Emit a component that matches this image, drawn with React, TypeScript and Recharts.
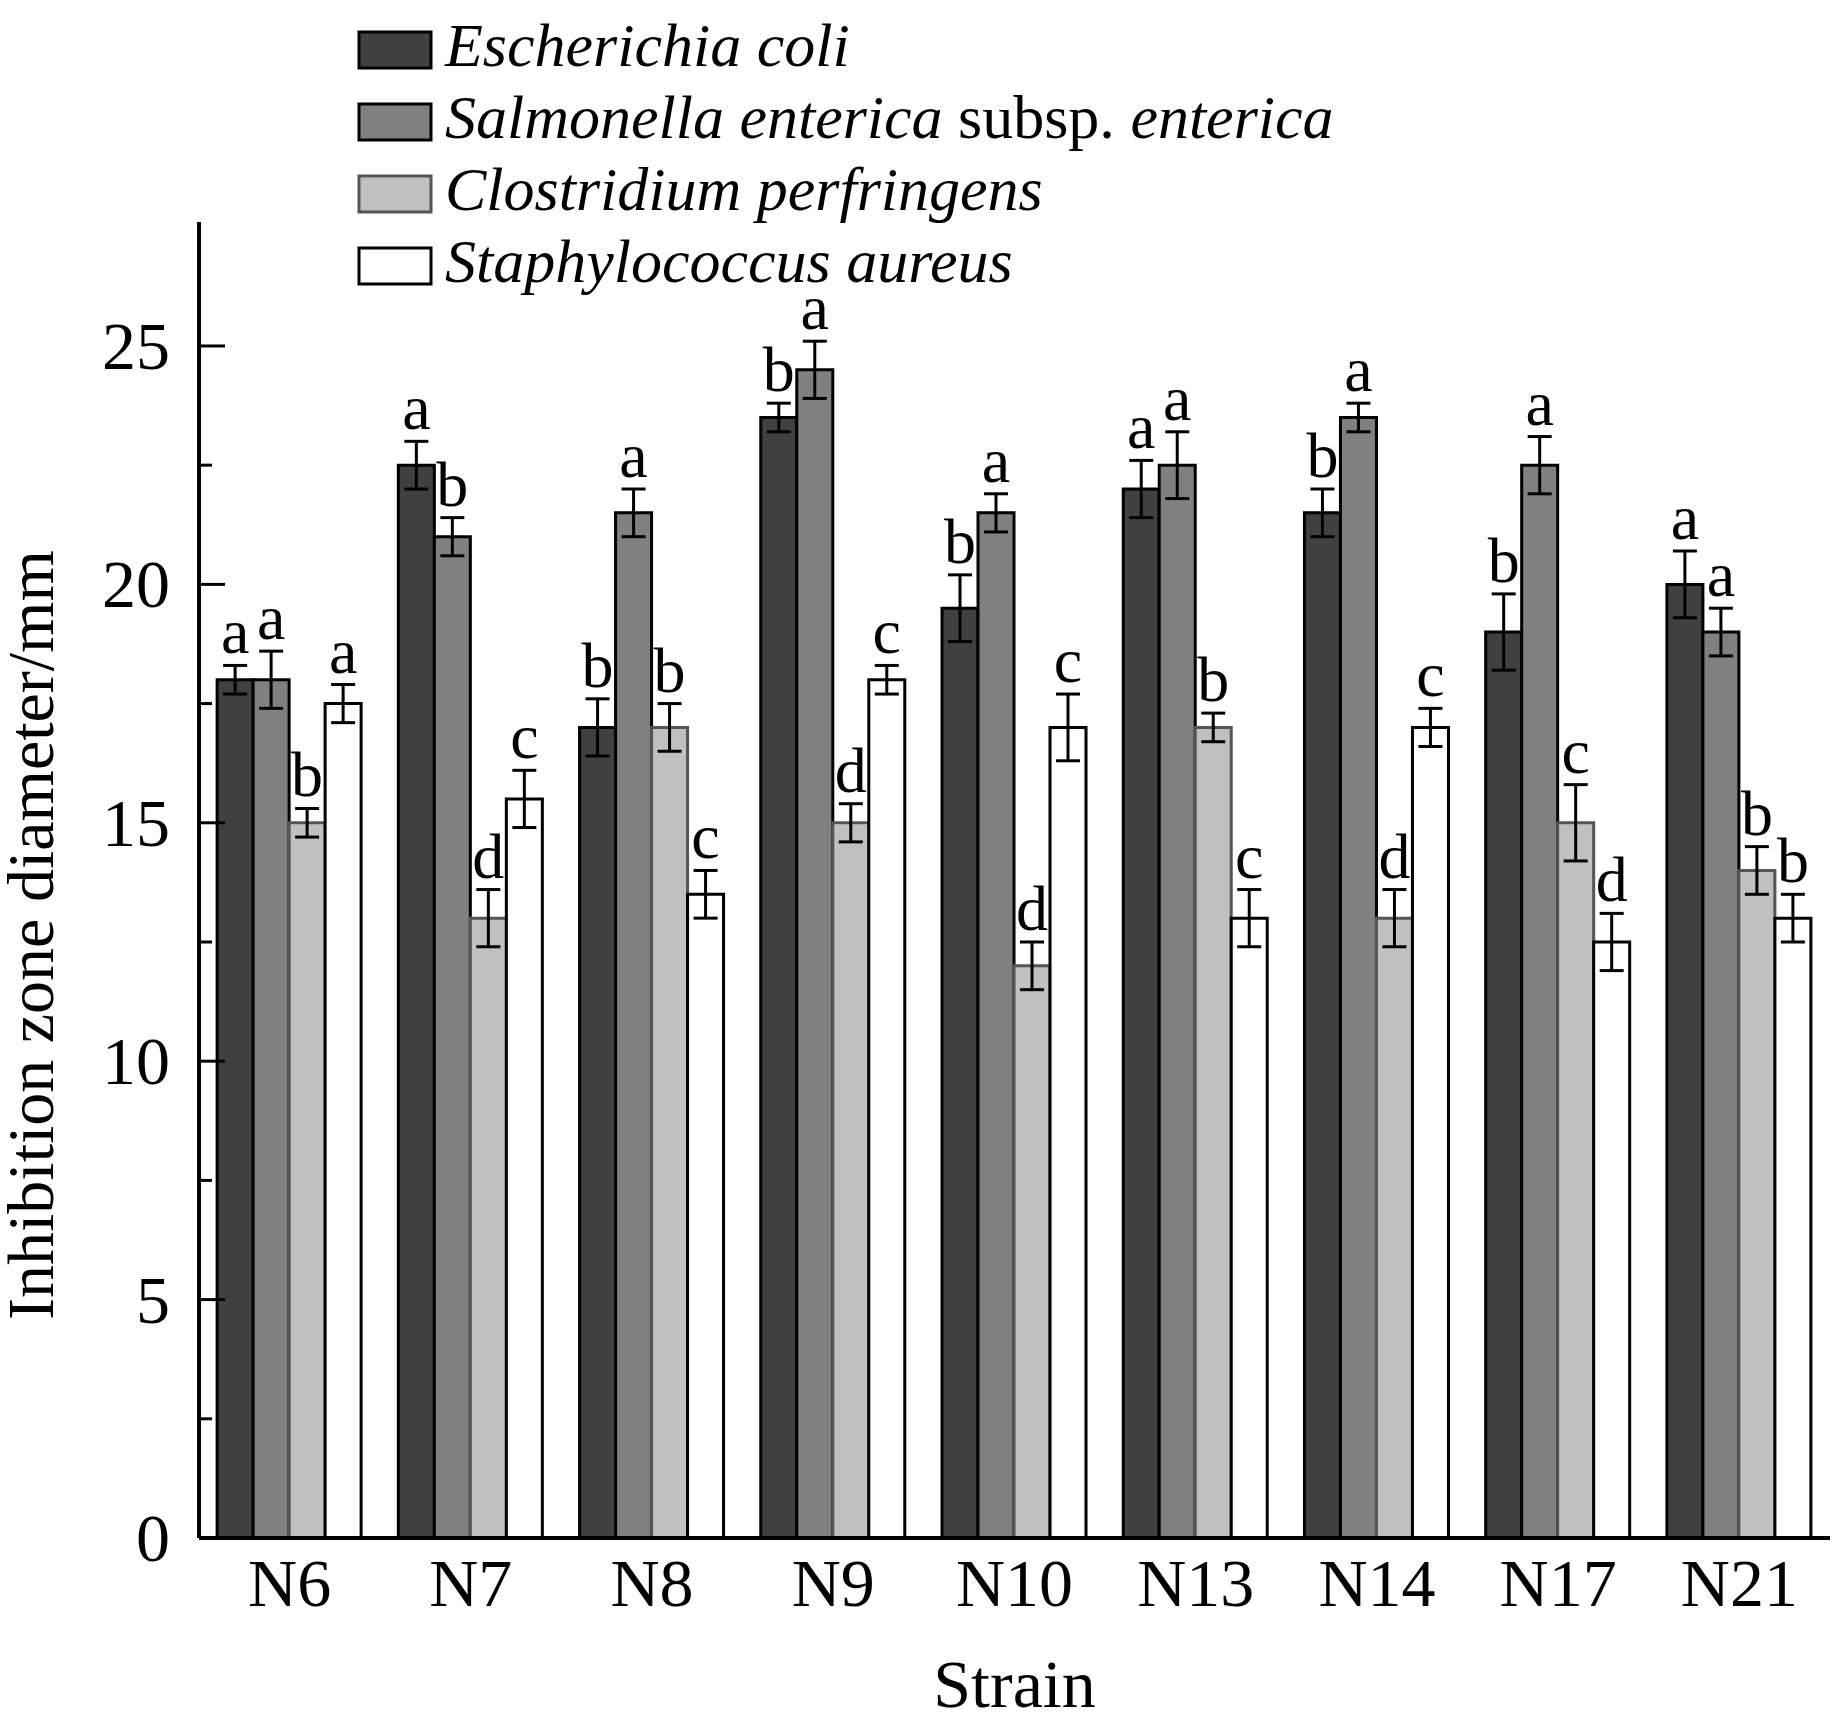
import React from 'react';
import { BarChart, Bar, XAxis, YAxis, ErrorBar, LabelList } from 'recharts';

const strains = ['N6', 'N7', 'N8', 'N9', 'N10', 'N13', 'N14', 'N17', 'N21'];
const ecoli = [18, 22.5, 17, 23.5, 19.5, 22, 21.5, 19, 20];
const salmonella = [18, 21, 21.5, 24.5, 21.5, 22.5, 23.5, 22.5, 19];
const clostridium = [15, 13, 17, 15, 12, 17, 13, 15, 14];
const staph = [17.5, 15.5, 13.5, 18, 17, 13, 17, 12.5, 13];
const ecoliErr = [0.3, 0.5, 0.6, 0.3, 0.7, 0.6, 0.5, 0.8, 0.7];
const salErr = [0.6, 0.4, 0.5, 0.6, 0.4, 0.7, 0.3, 0.6, 0.5];
const cloErr = [0.3, 0.6, 0.5, 0.4, 0.5, 0.3, 0.6, 0.8, 0.5];
const staErr = [0.4, 0.6, 0.5, 0.3, 0.7, 0.6, 0.4, 0.6, 0.5];
const ecoliLet = ['a', 'a', 'b', 'b', 'b', 'a', 'b', 'b', 'a'];
const salLet = ['a', 'b', 'a', 'a', 'a', 'a', 'a', 'a', 'a'];
const cloLet = ['b', 'd', 'b', 'd', 'd', 'b', 'd', 'c', 'b'];
const staLet = ['a', 'c', 'c', 'c', 'c', 'c', 'c', 'd', 'b'];
const yTicks = [0, 2.5, 5, 7.5, 10, 12.5, 15, 17.5, 20, 22.5, 25];

const data = strains.map((s, i) => ({
  name: s,
  e: ecoli[i], eErr: ecoliErr[i], eL: ecoliLet[i],
  s: salmonella[i], sErr: salErr[i], sL: salLet[i],
  c: clostridium[i], cErr: cloErr[i], cL: cloLet[i],
  t: staph[i], tErr: staErr[i], tL: staLet[i],
}));

const FONT = '"Liberation Serif", "Times New Roman", serif';

const series = [
  { key: 'e', err: 'eErr', let: 'eL', fill: '#404040', stroke: '#000' },
  { key: 's', err: 'sErr', let: 'sL', fill: '#808080', stroke: '#000' },
  { key: 'c', err: 'cErr', let: 'cL', fill: '#c0c0c0', stroke: '#555' },
  { key: 't', err: 'tErr', let: 'tL', fill: '#ffffff', stroke: '#000' },
];

const makeLetter = (errs: number[], vals: number[], lets: string[]) => (props: any) => {
  const { x, y, width, height, index } = props;
  const px = height / vals[index];
  const top = y - errs[index] * px;
  return (
    <text x={x + width / 2} y={top - 12} textAnchor="middle" fontFamily={FONT} fontSize={64} fill="#000">
      {lets[index]}
    </text>
  );
};

const YTick = (props: any) => {
  const { y, payload } = props;
  const major = payload.value % 5 === 0;
  return (
    <g>
      <line x1={199} x2={199 + (major ? 26 : 13)} y1={y} y2={y} stroke="#000" strokeWidth={3} />
      {major && (
        <text x={170} y={y + 23} textAnchor="end" fontFamily={FONT} fontSize={68} fill="#000">
          {payload.value}
        </text>
      )}
    </g>
  );
};

const legendItems = [
  { fill: '#404040', stroke: '#000', text: <tspan fontStyle="italic">Escherichia coli</tspan> },
  { fill: '#808080', stroke: '#000', text: <><tspan fontStyle="italic">Salmonella enterica</tspan><tspan> subsp. </tspan><tspan fontStyle="italic">enterica</tspan></> },
  { fill: '#c0c0c0', stroke: '#555', text: <tspan fontStyle="italic">Clostridium perfringens</tspan> },
  { fill: '#ffffff', stroke: '#000', text: <tspan fontStyle="italic">Staphylococcus aureus</tspan> },
];

export default function App() {
  return (
    <div style={{ position: 'absolute', left: 0, top: 0, width: 1834, height: 1715, background: '#fff' }}>
      <BarChart width={1834} height={1715} data={data} margin={{ top: 222, right: 4, left: 0, bottom: 0 }}
        barCategoryGap="10%" barGap={0}>
        <XAxis dataKey="name" height={177} tickLine={false} axisLine={{ stroke: '#000', strokeWidth: 4 }}
          tick={{ fontFamily: FONT, fontSize: 68, fill: '#000' }} tickMargin={14}
          label={{ value: 'Strain', position: 'insideBottom', offset: 8, fontFamily: FONT, fontSize: 68, fill: '#000' }} />
        <YAxis width={199} domain={[0, 27.6]} ticks={yTicks} interval={0} tickLine={false} tick={<YTick />}
          axisLine={{ stroke: '#000', strokeWidth: 4 }} allowDataOverflow
          label={{ value: 'Inhibition zone diameter/mm', angle: -90, position: 'insideLeft', offset: 30, dy: 440, fontFamily: FONT, fontSize: 66, fill: '#000' }} />
        {series.map((s, si) => {
          const vals = [ecoli, salmonella, clostridium, staph][si];
          const errs = [ecoliErr, salErr, cloErr, staErr][si];
          const lets = [ecoliLet, salLet, cloLet, staLet][si];
          return (
            <Bar key={s.key} dataKey={s.key} fill={s.fill} stroke={s.stroke} strokeWidth={3} isAnimationActive={false}>
              <ErrorBar dataKey={s.err} width={12} stroke="#000" strokeWidth={3} />
              <LabelList dataKey={s.let} content={makeLetter(errs, vals, lets)} />
            </Bar>
          );
        })}
      </BarChart>
      <svg width={1600} height={300} style={{ position: 'absolute', left: 0, top: 0 }}>
        {legendItems.map((it, i) => (
          <g key={i}>
            <rect x={359} y={32 + i * 72} width={72} height={36} fill={it.fill} stroke={it.stroke} strokeWidth={3} />
            <text x={445} y={66 + i * 72} fontFamily={FONT} fontSize={62} fill="#000">{it.text}</text>
          </g>
        ))}
      </svg>
    </div>
  );
}
